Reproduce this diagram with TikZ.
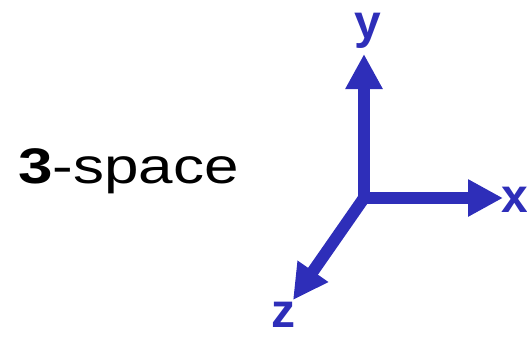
\documentclass[tikz,border=0pt]{standalone}
\usepackage{fontspec}
\setmainfont{Liberation Sans}
\usetikzlibrary{arrows.meta}
\definecolor{axisblue}{RGB}{46,46,185}
\begin{document}
\begin{tikzpicture}[x=1pt,y=-1pt,
  axis/.style={line width=12pt,draw=axisblue},
  lbl/.style={text=axisblue,font=\fontsize{48}{54}\selectfont\bfseries,inner sep=0pt,anchor=base,
    text height=0.53em,text depth=0pt}]
\useasboundingbox (0,0) rectangle (527,337);
\node[font=\fontsize{50}{60}\selectfont,inner sep=0pt,anchor=base west] (title) at (18,183) {\scalebox{1.24}[1]{\textbf{3}-space}};
\coordinate (o) at (364,198);
\coordinate (ytip) at (364,54);
\coordinate (xtip) at (503,198);
\coordinate (ztip) at (293,300);
\node[lbl] (ylbl) at (368,38) {y};
\node[lbl] (xlbl) at (515,212) {x};
\node[lbl] (zlbl) at (283,327) {z};
\draw[axis,{Triangle[length=35pt,width=35pt]}-{Triangle[length=35pt,width=35pt]}] (ytip) -- (o) -- (xtip);
\draw[axis,-{Triangle[length=35pt,width=35pt]}] (o) -- (ztip);
\end{tikzpicture}
\end{document}
